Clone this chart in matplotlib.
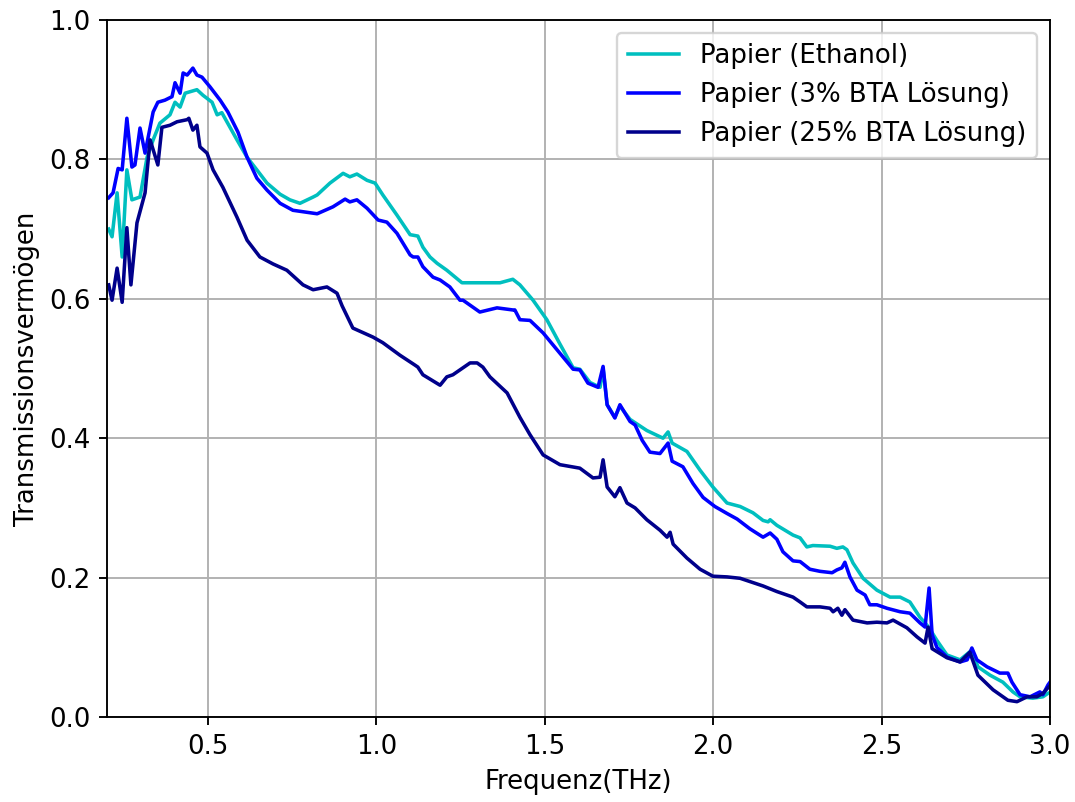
import matplotlib
matplotlib.use("Agg")
import matplotlib.pyplot as plt
import numpy as np

# --- Data ---
freq_eth = [0.205, 0.215, 0.230, 0.245, 0.259, 0.274, 0.298, 0.319, 0.337, 0.357, 0.387, 0.402, 0.417,
            0.432, 0.467, 0.485, 0.512, 0.527, 0.541, 0.556, 0.586, 0.616, 0.645, 0.675, 0.714, 0.743,
            0.773, 0.812, 0.824, 0.862, 0.901, 0.921, 0.942, 0.972, 0.996, 1.019, 1.061, 1.100, 1.123,
            1.138, 1.159, 1.180, 1.209, 1.254, 1.307, 1.367, 1.405, 1.426, 1.465, 1.506, 1.545, 1.584,
            1.604, 1.634, 1.664, 1.673, 1.685, 1.708, 1.723, 1.753, 1.803, 1.851, 1.866, 1.878, 1.922,
            1.961, 1.999, 2.041, 2.080, 2.118, 2.148, 2.163, 2.169, 2.189, 2.237, 2.258, 2.278, 2.296,
            2.347, 2.367, 2.385, 2.397, 2.415, 2.445, 2.486, 2.525, 2.555, 2.584, 2.614, 2.629, 2.641,
            2.664, 2.694, 2.733, 2.768, 2.786, 2.822, 2.860, 2.890, 2.911, 2.949, 2.979, 2.994, 3.0]
val_eth = [0.700, 0.689, 0.752, 0.660, 0.785, 0.742, 0.746, 0.803, 0.828, 0.852, 0.864, 0.882, 0.875,
           0.895, 0.900, 0.892, 0.882, 0.864, 0.867, 0.854, 0.828, 0.803, 0.785, 0.766, 0.750, 0.742,
           0.737, 0.746, 0.749, 0.766, 0.780, 0.775, 0.779, 0.770, 0.766, 0.749, 0.720, 0.692, 0.690,
           0.674, 0.660, 0.651, 0.641, 0.623, 0.623, 0.623, 0.628, 0.620, 0.598, 0.570, 0.535, 0.501,
           0.499, 0.480, 0.473, 0.500, 0.448, 0.430, 0.446, 0.427, 0.411, 0.400, 0.409, 0.393, 0.381,
           0.354, 0.330, 0.307, 0.302, 0.293, 0.282, 0.280, 0.283, 0.275, 0.261, 0.257, 0.244, 0.246,
           0.245, 0.242, 0.244, 0.240, 0.221, 0.199, 0.182, 0.172, 0.172, 0.165, 0.143, 0.135, 0.128,
           0.110, 0.089, 0.082, 0.096, 0.072, 0.060, 0.050, 0.036, 0.029, 0.027, 0.029, 0.034, 0.035]

freq_3 = [0.205, 0.218, 0.233, 0.245, 0.259, 0.274, 0.283, 0.298, 0.313, 0.337, 0.351, 0.372, 0.393,
          0.402, 0.417, 0.426, 0.438, 0.455, 0.467, 0.482, 0.506, 0.536, 0.559, 0.589, 0.616, 0.645,
          0.675, 0.714, 0.752, 0.824, 0.871, 0.907, 0.921, 0.942, 0.972, 1.005, 1.031, 1.061, 1.100,
          1.109, 1.123, 1.138, 1.168, 1.189, 1.218, 1.248, 1.257, 1.307, 1.358, 1.405, 1.411, 1.426,
          1.456, 1.495, 1.536, 1.584, 1.604, 1.628, 1.658, 1.673, 1.685, 1.708, 1.723, 1.753, 1.768,
          1.789, 1.812, 1.842, 1.866, 1.878, 1.910, 1.940, 1.970, 2.005, 2.041, 2.071, 2.109, 2.148,
          2.169, 2.189, 2.207, 2.237, 2.258, 2.287, 2.317, 2.353, 2.367, 2.382, 2.391, 2.406, 2.427,
          2.451, 2.465, 2.486, 2.516, 2.555, 2.584, 2.614, 2.629, 2.641, 2.650, 2.664, 2.694, 2.733,
          2.754, 2.768, 2.783, 2.813, 2.851, 2.875, 2.887, 2.911, 2.941, 2.970, 2.979, 2.994, 3.0]
val_3 = [0.745, 0.752, 0.787, 0.785, 0.859, 0.789, 0.792, 0.845, 0.809, 0.868, 0.882, 0.885, 0.890,
         0.910, 0.895, 0.924, 0.921, 0.931, 0.921, 0.918, 0.904, 0.885, 0.868, 0.839, 0.803, 0.773,
         0.756, 0.737, 0.727, 0.722, 0.732, 0.743, 0.739, 0.742, 0.730, 0.713, 0.710, 0.694, 0.663,
         0.660, 0.660, 0.646, 0.631, 0.627, 0.617, 0.598, 0.598, 0.581, 0.587, 0.584, 0.584, 0.570,
         0.569, 0.551, 0.527, 0.499, 0.498, 0.479, 0.473, 0.503, 0.448, 0.429, 0.448, 0.424, 0.419,
         0.397, 0.380, 0.378, 0.393, 0.367, 0.359, 0.335, 0.315, 0.302, 0.292, 0.284, 0.270, 0.258,
         0.264, 0.255, 0.237, 0.224, 0.223, 0.212, 0.209, 0.207, 0.211, 0.214, 0.222, 0.201, 0.182,
         0.175, 0.161, 0.161, 0.156, 0.151, 0.149, 0.135, 0.129, 0.185, 0.118, 0.100, 0.086, 0.079,
         0.082, 0.099, 0.082, 0.072, 0.063, 0.063, 0.050, 0.032, 0.029, 0.036, 0.032, 0.046, 0.050]

freq_25 = [0.205, 0.215, 0.230, 0.245, 0.259, 0.271, 0.289, 0.313, 0.328, 0.351, 0.363, 0.387, 0.408,
           0.438, 0.443, 0.455, 0.467, 0.476, 0.497, 0.515, 0.544, 0.586, 0.616, 0.654, 0.693, 0.734,
           0.782, 0.812, 0.853, 0.883, 0.898, 0.930, 0.990, 1.019, 1.070, 1.114, 1.123, 1.138, 1.189,
           1.209, 1.227, 1.248, 1.278, 1.299, 1.316, 1.337, 1.388, 1.426, 1.456, 1.495, 1.545, 1.604,
           1.643, 1.664, 1.673, 1.685, 1.708, 1.723, 1.744, 1.768, 1.803, 1.842, 1.863, 1.872, 1.881,
           1.922, 1.961, 1.999, 2.041, 2.080, 2.148, 2.189, 2.237, 2.258, 2.278, 2.317, 2.347, 2.356,
           2.370, 2.382, 2.391, 2.415, 2.457, 2.486, 2.516, 2.534, 2.575, 2.605, 2.629, 2.638, 2.650,
           2.694, 2.733, 2.762, 2.786, 2.831, 2.875, 2.902, 2.932, 2.961, 2.979, 2.994, 3.0]
val_25 = [0.620, 0.598, 0.644, 0.595, 0.702, 0.620, 0.709, 0.752, 0.828, 0.792, 0.846, 0.849, 0.854,
          0.857, 0.859, 0.842, 0.849, 0.818, 0.809, 0.785, 0.760, 0.717, 0.684, 0.660, 0.650, 0.641,
          0.620, 0.613, 0.617, 0.608, 0.590, 0.558, 0.545, 0.537, 0.519, 0.505, 0.502, 0.491, 0.476,
          0.488, 0.491, 0.498, 0.508, 0.508, 0.502, 0.488, 0.465, 0.430, 0.405, 0.376, 0.362, 0.357,
          0.343, 0.344, 0.369, 0.330, 0.316, 0.329, 0.307, 0.300, 0.283, 0.268, 0.258, 0.265, 0.248,
          0.228, 0.212, 0.202, 0.201, 0.199, 0.188, 0.180, 0.172, 0.165, 0.158, 0.158, 0.156, 0.151,
          0.156, 0.146, 0.154, 0.139, 0.135, 0.136, 0.135, 0.139, 0.128, 0.115, 0.106, 0.129, 0.098,
          0.085, 0.079, 0.093, 0.060, 0.039, 0.024, 0.022, 0.029, 0.029, 0.034, 0.042, 0.045]

labels = ["Papier (Ethanol)", "Papier (3% BTA Lösung)", "Papier (25% BTA Lösung)"]
colors = ["c", "b", "darkblue"]

x_ticks = [0.5, 1.0, 1.5, 2.0, 2.5, 3.0]
y_ticks = [0.0, 0.2, 0.4, 0.6, 0.8, 1.0]

# --- Plot ---
plt.rcParams["font.size"] = 11
DPI = 170
fig = plt.figure(figsize=(1075 / DPI, 802 / DPI), dpi=DPI)
ax = fig.add_axes([107 / 1075, 1 - 717 / 802, (1050 - 107) / 1075, (717 - 20) / 802])

for f, v, lab, col in zip([freq_eth, freq_3, freq_25], [val_eth, val_3, val_25], labels, colors):
    ax.plot(f, v, color=col, label=lab, lw=1.5)

ax.set_xlim(0.2, 3.0)
ax.set_ylim(0.0, 1.0)
ax.set_xticks(x_ticks)
ax.set_yticks(y_ticks)
ax.grid(True)
ax.set_xlabel("Frequenz(THz)")
ax.set_ylabel("Transmissionsvermögen")
ax.legend(loc="upper right")

fig.savefig("out.png", dpi=DPI)
